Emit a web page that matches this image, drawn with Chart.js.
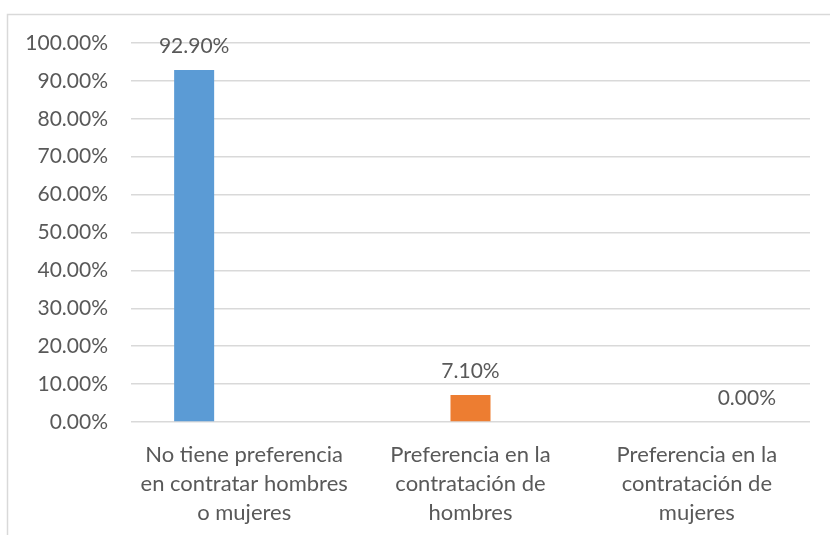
<!DOCTYPE html>
<html>
<head>
<meta charset="utf-8">
<script src="https://cdn.jsdelivr.net/npm/chart.js@4"></script>
<style>
  html, body { margin: 0; padding: 0; background: #ffffff; }
  #wrap { width: 830px; height: 535px; }
</style>
</head>
<body>
<div id="wrap"><canvas id="chart" width="830" height="535"></canvas></div>
<script>
// categorias del eje x (en varias lineas)
const categories = [
  ['No tiene preferencia', 'en contratar hombres', 'o mujeres'],
  ['Preferencia en la', 'contratación de', 'hombres'],
  ['Preferencia en la', 'contratación de', 'mujeres']
];
// una serie por categoria, como en Excel
const noPreferencia = [92.9, null, null];
const prefHombres = [null, 7.1, null];
const prefMujeres = [null, null, 0];
const seriesColors = ['#5b9bd5', '#ed7d31', '#a5a5a5'];
const yTicks = [0, 10, 20, 30, 40, 50, 60, 70, 80, 90, 100];

const textColor = '#595959';
const gridColor = '#d9d9d9';
const fontFamily = 'Lato, "Open Sans", sans-serif';

// marco del grafico
const framePlugin = {
  id: 'frame',
  beforeDraw(chart) {
    const ctx = chart.ctx;
    ctx.save();
    ctx.strokeStyle = gridColor;
    ctx.lineWidth = 1.5;
    ctx.strokeRect(7.5, 14.5, 840, 540);
    ctx.restore();
  }
};

// etiquetas de valor encima de las barras
const valueLabels = {
  id: 'valueLabels',
  afterDatasetsDraw(chart) {
    const ctx = chart.ctx;
    ctx.save();
    ctx.font = '21px ' + fontFamily;
    ctx.fillStyle = textColor;
    ctx.textAlign = 'center';
    ctx.textBaseline = 'middle';
    chart.data.datasets.forEach((ds, i) => {
      const meta = chart.getDatasetMeta(i);
      meta.data.forEach((bar, j) => {
        const v = ds.data[j];
        if (v === null || v === undefined) return;
        ctx.fillText(v.toFixed(2) + '%', bar.x, bar.y - 24);
      });
    });
    ctx.restore();
  }
};

new Chart(document.getElementById('chart'), {
  type: 'bar',
  data: {
    labels: categories,
    datasets: [
      { label: 'No tiene preferencia', data: noPreferencia, backgroundColor: seriesColors[0] },
      { label: 'Preferencia hombres', data: prefHombres, backgroundColor: seriesColors[1] },
      { label: 'Preferencia mujeres', data: prefMujeres, backgroundColor: seriesColors[2] }
    ]
  },
  options: {
    responsive: false,
    animation: false,
    layout: { padding: { left: 0, right: 20, top: 43, bottom: 0 } },
    datasets: {
      bar: { categoryPercentage: 0.663, barPercentage: 0.8, borderWidth: 0 }
    },
    plugins: {
      legend: { display: false },
      tooltip: { enabled: false }
    },
    scales: {
      x: {
        grid: { display: false, drawTicks: false },
        border: { display: false },
        ticks: {
          color: textColor,
          font: { family: fontFamily, size: 22, lineHeight: 1.32 },
          padding: 18,
          maxRotation: 0,
          autoSkip: false
        },
        afterFit(scale) { scale.height = 113; }
      },
      y: {
        min: 0,
        max: 100,
        afterBuildTicks(scale) { scale.ticks = yTicks.map(v => ({ value: v })); },
        grid: { color: gridColor, lineWidth: 1.5, drawTicks: false },
        border: { display: false },
        ticks: {
          color: textColor,
          font: { family: fontFamily, size: 21 },
          padding: 23,
          callback: v => v.toFixed(2) + '%'
        },
        afterFit(scale) { scale.width = 131; }
      }
    }
  },
  plugins: [framePlugin, valueLabels]
});
</script>
</body>
</html>
